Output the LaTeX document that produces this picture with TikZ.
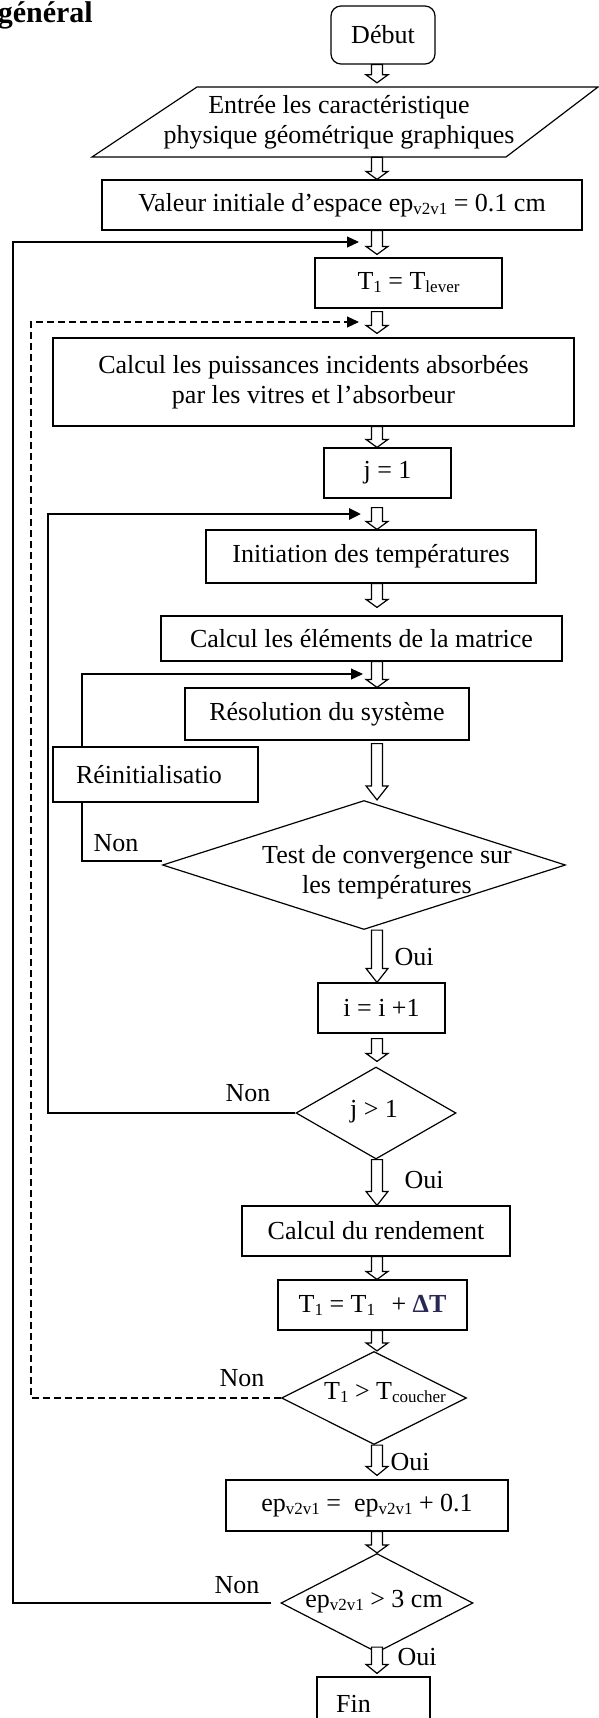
\documentclass[tikz,border=0pt]{standalone}
\usepackage{fontspec}
\setmainfont{Liberation Serif}
\usetikzlibrary{shapes.geometric,arrows.meta,calc}
\definecolor{dtcol}{RGB}{40,40,85}
\newcommand\sbs[1]{\raisebox{-3pt}{\fontsize{17}{17}\selectfont #1}}
\begin{document}
\begin{tikzpicture}[x=1pt,y=-1pt,
  font=\fontsize{26}{30}\selectfont,
  box/.style={draw, line width=1.2pt, rectangle, inner sep=0pt, align=center},
  sz/.style 2 args={minimum width=#1pt, minimum height=#2pt},
  dia/.style={draw, line width=1.2pt, diamond, inner sep=0pt},
  lbl/.style={inner sep=0pt, align=center},
  harrow/.style={draw, fill=white, line width=1.2pt, line join=miter,
    to path={let \p1=(\tikztostart), \p2=(\tikztotarget) in
      (\x1-5.5pt,\y1) -- (\x1-5.5pt,\y2+#1) -- (\x1-11pt,\y2+#1) -- (\x1,\y2)
      -- (\x1+11pt,\y2+#1) -- (\x1+5.5pt,\y2+#1) -- (\x1+5.5pt,\y1) -- cycle}},
  harrow/.default=8pt,
  loopline/.style={line width=1.2pt, -{Triangle[length=12pt,width=11pt]}},
  plain/.style={line width=1.2pt}
]
\useasboundingbox (0,0) rectangle (598,1718);

% title
\node[anchor=base east, inner sep=0pt, font=\fontsize{30}{34}\selectfont\bfseries] (title) at (93,23) {général};

% nodes
\node[box, rounded corners=10pt, sz={104}{58}] (deb) at (383,35) {Début};
\node[lbl, minimum height=70pt] (par) at (339,122) {Entrée les caractéristique\\physique géométrique graphiques};
\draw[plain] (92,157) -- (197,87) -- (598,87) -- (506,157) -- cycle;
\node[box, sz={480}{50}] (val) at (342,205) {Valeur initiale d’espace ep\sbs{v2v1} = 0.1 cm};
\node[box, sz={187}{50}] (t1) at (408.5,283) {T\sbs{1} = T\sbs{lever}};
\node[box, sz={521}{88}] (cal) at (313.5,382) {Calcul les puissances incidents absorbées\\par les vitres et l’absorbeur};
\node[box, sz={127}{50}] (j1) at (387.5,473) {j = 1};
\node[box, sz={330}{53}] (ini) at (371,556.5) {Initiation des températures};
\node[box, sz={401}{45}] (mat) at (361.5,638.5) {Calcul les éléments de la matrice};
\node[box, sz={284}{52}] (res) at (327,714) {Résolution du système};
\node[box, sz={205}{55}] (rei) at (155.5,774.5) {Réinitialisatio\hspace*{13pt}};
\node[dia, minimum width=403pt, minimum height=129pt] (td) at (364,865) {};
\node[lbl] (tdtx) at (387,872) {Test de convergence sur\\les températures};
\node[box, sz={127}{50}] (ii) at (381.5,1008) {i = i +1};
\node[dia, minimum width=160pt, minimum height=92pt] (jd) at (376,1113) {};
\node[lbl] (jdtx) at (374,1112) {j > 1};
\node[box, sz={268}{50}] (ren) at (376,1231) {Calcul du rendement};
\node[box, sz={189}{50}] (tdt) at (372.5,1305) {T\sbs{1} = T\sbs{1}\hspace{10pt} + {\color{dtcol}\bfseries ΔT}};
\node[dia, minimum width=185pt, minimum height=93pt] (tcd) at (374,1398) {};
\node[lbl] (tcdtx) at (385,1393) {T\sbs{1} > T\sbs{coucher}};
\node[box, sz={282}{51}] (ep) at (367,1505.5) {ep\sbs{v2v1} =\ \ ep\sbs{v2v1} + 0.1};
\node[dia, minimum width=192pt, minimum height=99pt] (epd) at (377,1603) {};
\node[lbl] (epdtx) at (374,1602) {ep\sbs{v2v1} > 3 cm};
\node[box, sz={113}{53}] (fin) at (373.5,1703.5) {Fin\hspace*{40pt}};

% labels
\node[lbl] (n1) at (116,843) {Non};
\node[lbl] (o1) at (414,957) {Oui};
\node[lbl] (n2) at (248,1093) {Non};
\node[lbl] (o2) at (424,1180) {Oui};
\node[lbl] (n3) at (242,1378) {Non};
\node[lbl] (o3) at (410,1462) {Oui};
\node[lbl] (n4) at (237,1585) {Non};
\node[lbl] (o4) at (417,1657) {Oui};

% loop-back coordinates
\coordinate (in1) at (359,242);
\coordinate (in2) at (359,322);
\coordinate (in3) at (361,514);
\coordinate (in4) at (363,674);
\coordinate (xa) at (13,0);
\coordinate (xb) at (31,0);
\coordinate (xc) at (48,0);
\coordinate (xd) at (82,0);

\draw[loopline] ([xshift=-9pt]epd.west) -| (in1 -| xa) -- (in1);
\draw[loopline, dash pattern=on 7pt off 4pt] (tcd.west) -| (in2 -| xb) -- (in2);
\draw[loopline, line width=2.8pt] (jd.west) -| (in3 -| xc) -- (in3);
\draw[plain] ([yshift=4pt]td.west) -| (rei.south -| xd);
\draw[loopline] (rei.north -| xd) |- (in4);

% hollow block arrows
\coordinate (ax) at (377,0);
\draw[harrow] (deb.south -| ax) to ([yshift=4pt]par.north -| ax);
\draw[harrow] (par.south -| ax) to (val.north -| ax);
\draw[harrow] (val.south -| ax) to ([yshift=3pt]t1.north -| ax);
\draw[harrow] ([yshift=-3pt]t1.south -| ax) to ([yshift=4pt]cal.north -| ax);
\draw[harrow] (cal.south -| ax) to (j1.north -| ax);
\draw[harrow] ([yshift=-9pt]j1.south -| ax) to (ini.north -| ax);
\draw[harrow] (ini.south -| ax) to ([yshift=8pt]mat.north -| ax);
\draw[harrow] (mat.south -| ax) to (res.north -| ax);
\draw[harrow=14pt] ([yshift=-3pt]res.south -| ax) to (td.north -| ax);
\draw[harrow=14pt] (td.south -| ax) to (ii.north -| ax);
\draw[harrow] ([yshift=-5pt]ii.south -| ax) to ([yshift=5pt]jd.north -| ax);
\draw[harrow=14pt] (jd.south -| ax) to (ren.north -| ax);
\draw[harrow] (ren.south -| ax) to (tdt.north -| ax);
\draw[harrow] (tdt.south -| ax) to (tcd.north -| ax);
\draw[harrow=9pt] (tcd.south -| ax) to ([yshift=4pt]ep.north -| ax);
\draw[harrow] (ep.south -| ax) to (epd.north -| ax);
\draw[harrow=9pt] ([yshift=6pt]epd.south -| ax) to ([yshift=3pt]fin.north -| ax);
\end{tikzpicture}
\end{document}
